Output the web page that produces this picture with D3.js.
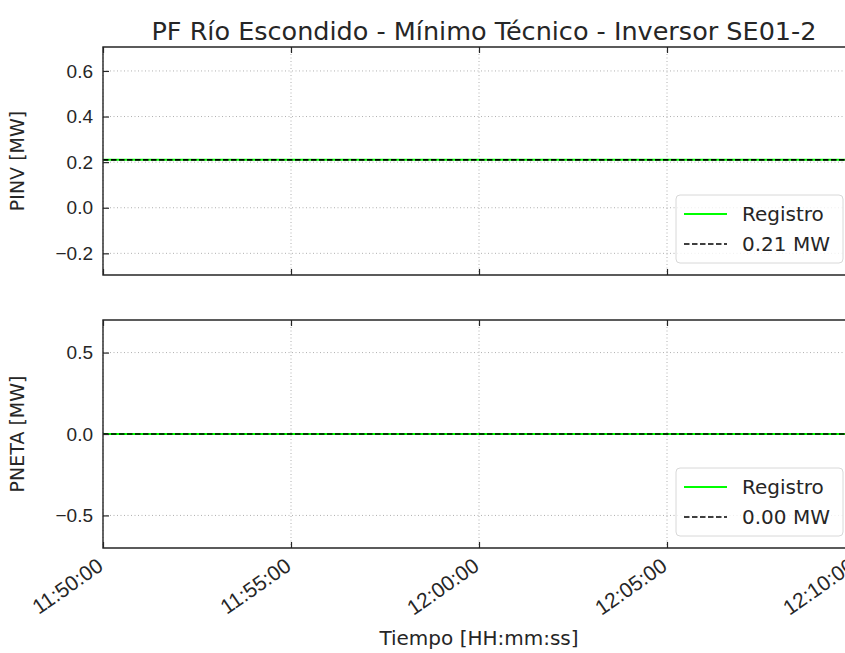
<!DOCTYPE html>
<html>
<head>
<meta charset="utf-8">
<script src="https://cdn.jsdelivr.net/npm/d3@7"></script>
<style>
  body { margin: 0; background: #fff; }
  svg { font-family: "DejaVu Sans", sans-serif; display: block; }
</style>
</head>
<body>
<svg width="845" height="653"></svg>
<script>
// registro cada minuto, 11:50:00 a 12:10:00
var tiempos = ["11:50:00","11:51:00","11:52:00","11:53:00","11:54:00","11:55:00","11:56:00",
  "11:57:00","11:58:00","11:59:00","12:00:00","12:01:00","12:02:00","12:03:00","12:04:00",
  "12:05:00","12:06:00","12:07:00","12:08:00","12:09:00","12:10:00"];
var pinv = [0.21,0.21,0.21,0.21,0.21,0.21,0.21,0.21,0.21,0.21,0.21,0.21,0.21,0.21,0.21,0.21,0.21,0.21,0.21,0.21,0.21];
var pneta = [0,0,0,0,0,0,0,0,0,0,0,0,0,0,0,0,0,0,0,0,0];
var refPinv = 0.21, refPneta = 0.00;
var xTicks = ["11:50:00","11:55:00","12:00:00","12:05:00","12:10:00"];
var yTicksPinv = [-0.2, 0.0, 0.2, 0.4, 0.6];
var yTicksPneta = [-0.5, 0.0, 0.5];

var parse = d3.timeParse("%H:%M:%S");
var svg = d3.select("svg");

var left = 103, right = 855;
var x = d3.scaleTime()
  .domain([parse("11:50:00"), parse("12:10:00")])
  .range([left, right]);

var panels = [
  { top: 47, bottom: 275, domain: [-0.295, 0.705], ticks: yTicksPinv, vals: pinv, ref: refPinv,
    label: "PINV [MW]", refLabel: "0.21 MW" },
  { top: 320, bottom: 548, domain: [-0.7, 0.7], ticks: yTicksPneta, vals: pneta, ref: refPneta,
    label: "PNETA [MW]", refLabel: "0.00 MW" }
];
var fmt = d3.format(".1f");

panels.forEach(function(p, k) {
  var y = d3.scaleLinear().domain(p.domain).range([p.bottom, p.top]);
  var g = svg.append("g");

  // grid
  g.append("g").selectAll("line").data(p.ticks).enter().append("line")
    .attr("x1", left).attr("x2", right)
    .attr("y1", function(d) { return y(d); }).attr("y2", function(d) { return y(d); })
    .attr("stroke", "#b0b0b0").attr("stroke-width", 1).attr("stroke-dasharray", "1,2.5");
  g.append("g").selectAll("line").data(xTicks).enter().append("line")
    .attr("x1", function(d) { return x(parse(d)); }).attr("x2", function(d) { return x(parse(d)); })
    .attr("y1", p.top).attr("y2", p.bottom)
    .attr("stroke", "#b0b0b0").attr("stroke-width", 1).attr("stroke-dasharray", "1,2.5");

  // series
  var data = tiempos.map(function(t, i) { return { t: parse(t), v: p.vals[i] }; });
  var line = d3.line().x(function(d) { return x(d.t); }).y(function(d) { return y(d.v); });
  g.append("path").datum(data).attr("d", line)
    .attr("fill", "none").attr("stroke", "#00ff00").attr("stroke-width", 2);
  g.append("line")
    .attr("x1", left).attr("x2", right).attr("y1", y(p.ref)).attr("y2", y(p.ref))
    .attr("stroke", "#000").attr("stroke-width", 1.6).attr("stroke-dasharray", "5.5,2.5");

  // axes (ticks inward)
  var yAxis = d3.axisLeft(y).tickValues(p.ticks).tickSizeInner(-6).tickSizeOuter(0)
    .tickPadding(10).tickFormat(function(d) { return fmt(d).replace("-", "\u2212"); });
  var ga = g.append("g").attr("transform", "translate(" + left + ",0)").call(yAxis);
  ga.select(".domain").remove();
  ga.selectAll("text").attr("font-size", 19).attr("fill", "#262626");
  ga.selectAll("line").attr("stroke", "#262626").attr("stroke-width", 1.2);

  var xb = d3.axisBottom(x).tickValues(xTicks.map(parse)).tickSizeInner(-6).tickSizeOuter(0)
    .tickFormat(d3.timeFormat("%H:%M:%S"));
  var gb = g.append("g").attr("transform", "translate(0," + p.bottom + ")").call(xb);
  gb.select(".domain").remove();
  gb.selectAll("line").attr("stroke", "#262626").attr("stroke-width", 1.2);
  var xt = d3.axisTop(x).tickValues(xTicks.map(parse)).tickSizeInner(-6).tickSizeOuter(0).tickFormat("");
  var gt = g.append("g").attr("transform", "translate(0," + p.top + ")").call(xt);
  gt.select(".domain").remove();
  gt.selectAll("line").attr("stroke", "#262626").attr("stroke-width", 1.2);

  if (k === 1) {
    gb.selectAll("text")
      .attr("font-size", 21).attr("fill", "#262626")
      .attr("text-anchor", "end")
      .attr("dy", null).attr("y", 0)
      .attr("transform", "translate(1,21) rotate(-35)");
  } else {
    gb.selectAll("text").remove();
  }

  // spines
  g.append("path")
    .attr("d", "M" + right + "," + p.top + "H" + left + "V" + p.bottom + "H" + right)
    .attr("fill", "none").attr("stroke", "#262626").attr("stroke-width", 1.4);

  // ylabel
  svg.append("text")
    .attr("transform", "translate(24," + ((p.top + p.bottom) / 2) + ") rotate(-90)")
    .attr("text-anchor", "middle").attr("font-size", 19).attr("fill", "#262626")
    .text(p.label);

  // legend
  var lg = svg.append("g").attr("transform", "translate(676," + (p.bottom - 80) + ")");
  lg.append("rect").attr("x", 0).attr("y", 0).attr("width", 167).attr("height", 68)
    .attr("rx", 4).attr("fill", "#fff").attr("fill-opacity", 0.8)
    .attr("stroke", "#d8d8d8").attr("stroke-width", 1);
  var items = [{ name: "Registro", color: "#00ff00", dash: null, w: 2 },
               { name: p.refLabel, color: "#000", dash: "5.5,2.5", w: 1.6 }];
  items.forEach(function(it, i) {
    var cy = 19 + i * 30;
    lg.append("line").attr("x1", 8).attr("x2", 51).attr("y1", cy).attr("y2", cy)
      .attr("stroke", it.color).attr("stroke-width", it.w).attr("stroke-dasharray", it.dash);
    lg.append("text").attr("x", 66).attr("y", cy).attr("dy", "0.35em")
      .attr("font-size", 20).attr("fill", "#262626").text(it.name);
  });
});

// titulo y xlabel
svg.append("text").attr("x", 484).attr("y", 40).attr("text-anchor", "middle")
  .attr("font-size", 25.5).attr("fill", "#262626")
  .text("PF Río Escondido - Mínimo Técnico - Inversor SE01-2");
svg.append("text").attr("x", 479).attr("y", 645).attr("text-anchor", "middle")
  .attr("font-size", 20).attr("fill", "#262626")
  .text("Tiempo [HH:mm:ss]");
</script>
</body>
</html>
